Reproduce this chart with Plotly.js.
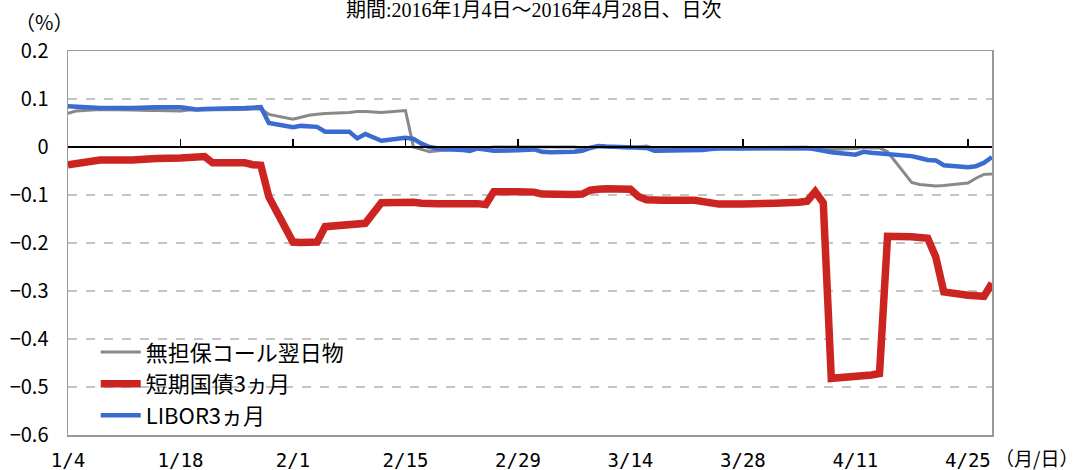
<!DOCTYPE html>
<html>
<head>
<meta charset="utf-8">
<script src="https://cdn.plot.ly/plotly-3.0.1.min.js"></script>
<style>html,body{margin:0;padding:0;background:#fff;}#chart{width:1081px;height:470px;}</style>
</head>
<body>
<div id="chart"></div>
<script>
const dates = [
 '2016-01-04','2016-01-05','2016-01-06','2016-01-07','2016-01-08','2016-01-12','2016-01-13','2016-01-14','2016-01-15',
 '2016-01-18','2016-01-19','2016-01-20','2016-01-21','2016-01-22','2016-01-25','2016-01-26','2016-01-27','2016-01-28','2016-01-29',
 '2016-02-01','2016-02-02','2016-02-03','2016-02-04','2016-02-05','2016-02-08','2016-02-09','2016-02-10','2016-02-12',
 '2016-02-15','2016-02-16','2016-02-17','2016-02-18','2016-02-19','2016-02-22','2016-02-23','2016-02-24','2016-02-25','2016-02-26','2016-02-29',
 '2016-03-01','2016-03-02','2016-03-03','2016-03-04','2016-03-07','2016-03-08','2016-03-09','2016-03-10','2016-03-11',
 '2016-03-14','2016-03-15','2016-03-16','2016-03-17','2016-03-18','2016-03-22','2016-03-23','2016-03-24','2016-03-25',
 '2016-03-28','2016-03-29','2016-03-30','2016-03-31','2016-04-01','2016-04-04','2016-04-05','2016-04-06','2016-04-07','2016-04-08',
 '2016-04-11','2016-04-12','2016-04-13','2016-04-14','2016-04-15','2016-04-18','2016-04-19','2016-04-20','2016-04-21','2016-04-22',
 '2016-04-25','2016-04-26','2016-04-27','2016-04-28'
];
const callOvernight = [
 0.070,0.075,0.076,0.077,0.078,0.077,0.076,0.076,0.076,
 0.075,0.077,0.077,0.077,0.077,0.078,0.078,0.079,0.079,0.068,
 0.058,0.062,0.066,0.068,0.070,0.072,0.074,0.074,0.072,
 0.076,0.000,-0.005,-0.010,-0.008,-0.006,-0.004,-0.002,-0.002,0.000,0.000,
 0.000,0.000,0.000,0.000,0.000,-0.002,0.000,0.001,0.000,
 -0.002,0.000,0.002,-0.003,-0.003,-0.003,-0.003,-0.003,-0.003,
 -0.003,-0.003,-0.003,-0.003,-0.003,-0.003,-0.003,-0.004,-0.005,-0.005,
 -0.003,-0.001,-0.002,-0.002,-0.010,-0.074,-0.078,-0.080,-0.081,-0.080,
 -0.075,-0.065,-0.057,-0.056
];
const tBill3m = [
 -0.037,-0.035,-0.033,-0.029,-0.027,-0.027,-0.027,-0.025,-0.024,
 -0.023,-0.021,-0.020,-0.020,-0.033,-0.033,-0.033,-0.037,-0.038,-0.104,
 -0.198,-0.199,-0.199,-0.198,-0.166,-0.161,-0.160,-0.159,-0.116,
 -0.114,-0.115,-0.117,-0.118,-0.118,-0.118,-0.117,-0.118,-0.120,-0.093,-0.093,
 -0.093,-0.094,-0.098,-0.099,-0.099,-0.098,-0.090,-0.088,-0.087,
 -0.088,-0.103,-0.110,-0.111,-0.111,-0.111,-0.113,-0.116,-0.119,
 -0.119,-0.119,-0.118,-0.118,-0.117,-0.115,-0.113,-0.093,-0.116,-0.482,
 -0.479,-0.477,-0.475,-0.472,-0.186,-0.187,-0.188,-0.190,-0.229,-0.302,
 -0.309,-0.311,-0.311,-0.284
];
const libor3m = [
 0.085,0.084,0.083,0.082,0.081,0.081,0.082,0.083,0.083,
 0.083,0.080,0.078,0.079,0.079,0.080,0.081,0.082,0.083,0.050,
 0.041,0.044,0.044,0.042,0.032,0.032,0.018,0.027,0.013,
 0.019,0.017,0.007,0.000,-0.003,-0.006,-0.008,-0.003,-0.006,-0.008,-0.007,
 -0.006,-0.005,-0.010,-0.011,-0.010,-0.008,-0.002,0.002,0.001,
 -0.002,-0.001,-0.002,-0.008,-0.008,-0.007,-0.006,-0.004,-0.003,
 -0.003,-0.003,-0.003,-0.003,-0.002,-0.002,-0.002,-0.005,-0.009,-0.011,
 -0.016,-0.010,-0.012,-0.013,-0.015,-0.019,-0.023,-0.027,-0.028,-0.038,
 -0.042,-0.040,-0.033,-0.021
];
const seriesNames = ['無担保コール翌日物','短期国債3ヵ月','LIBOR3ヵ月'];
const tickDates = ['2016-01-04','2016-01-18','2016-02-01','2016-02-15','2016-02-29','2016-03-14','2016-03-28','2016-04-11','2016-04-25'];
const tickLabels = ['1/4','1/18','2/1','2/15','2/29','3/14','3/28','4/11','4/25'];
const yTicks = [0.2,0.1,0,-0.1,-0.2,-0.3,-0.4,-0.5,-0.6];
const yLabels = ['0.2','0.1','0','\u22120.1','\u22120.2','\u22120.3','\u22120.4','\u22120.5','\u22120.6'];

const jp = '"Noto Sans CJK JP", "Noto Sans", sans-serif';

const traces = [
 {x: dates, y: callOvernight, name: seriesNames[0], type: 'scatter', mode: 'lines',
  line: {color: '#898989', width: 3}},
 {x: dates, y: tBill3m, name: seriesNames[1], type: 'scatter', mode: 'lines',
  line: {color: '#cc2420', width: 7.5}},
 {x: dates, y: libor3m, name: seriesNames[2], type: 'scatter', mode: 'lines',
  line: {color: '#3a6bd0', width: 4.5}},
 {x: [dates[0]], y: [null], xaxis: 'x2', yaxis: 'y', showlegend: false, hoverinfo: 'skip', mode: 'lines'}
];

const layout = {
 width: 1081, height: 470,
 margin: {l: 68, r: 89, t: 51, b: 35},
 paper_bgcolor: '#fff', plot_bgcolor: '#fff',
 showlegend: true,
 legend: {x: 0.03, y: 0.27, xanchor: 'left', yanchor: 'top', bgcolor: 'rgba(0,0,0,0)',
  font: {family: jp, size: 22, color: '#000'}, tracegroupgap: 0, itemwidth: 40},
 xaxis: {type: 'date', range: ['2016-01-04','2016-04-28'], tickvals: tickDates, ticktext: tickLabels,
  ticks: '', showgrid: false, zeroline: false, showline: true, mirror: true, linecolor: '#999', linewidth: 1.5,
  tickfont: {family: '"DejaVu Sans Mono", monospace', size: 19, color: '#000'}, ticklabelstandoff: 8, fixedrange: true},
 xaxis2: {type: 'date', overlaying: 'x', matches: 'x', anchor: 'free', position: 0.75, side: 'bottom',
  tickvals: tickDates, ticks: 'inside', ticklen: 7, tickwidth: 1.5, tickcolor: '#000',
  showticklabels: false, showgrid: false, zeroline: false, showline: true, linecolor: '#000', linewidth: 2},
 yaxis: {range: [-0.6, 0.2], tickvals: yTicks, ticktext: yLabels, ticks: '',
  showgrid: true, gridcolor: '#c4c4c4', griddash: 'dash', gridwidth: 1.3, zeroline: false,
  showline: true, mirror: true, linecolor: '#999', linewidth: 1.5,
  tickfont: {family: jp, size: 20, color: '#000'}, ticklabelstandoff: 14, fixedrange: true},
 annotations: [
  {text: '期間:2016年1月4日～2016年4月28日、日次', xref: 'paper', yref: 'paper', x: (533-68)/923, y: (435-10)/384,
   xanchor: 'center', yanchor: 'middle', showarrow: false,
   font: {family: '"Liberation Serif", "Noto Sans CJK JP", serif', size: 20, color: '#000'}},
  {text: '（%）', xref: 'paper', yref: 'paper', x: (13-68)/923, y: (435-21)/384,
   xanchor: 'left', yanchor: 'middle', showarrow: false,
   font: {family: jp, size: 20, color: '#000'}},
  {text: '（月/日）', xref: 'paper', yref: 'paper', x: (992-68)/923, y: (435-457)/384,
   xanchor: 'left', yanchor: 'middle', showarrow: false,
   font: {family: jp, size: 19, color: '#000'}}
 ]
};

Plotly.newPlot('chart', traces, layout, {displayModeBar: false, staticPlot: true});
</script>
</body>
</html>
